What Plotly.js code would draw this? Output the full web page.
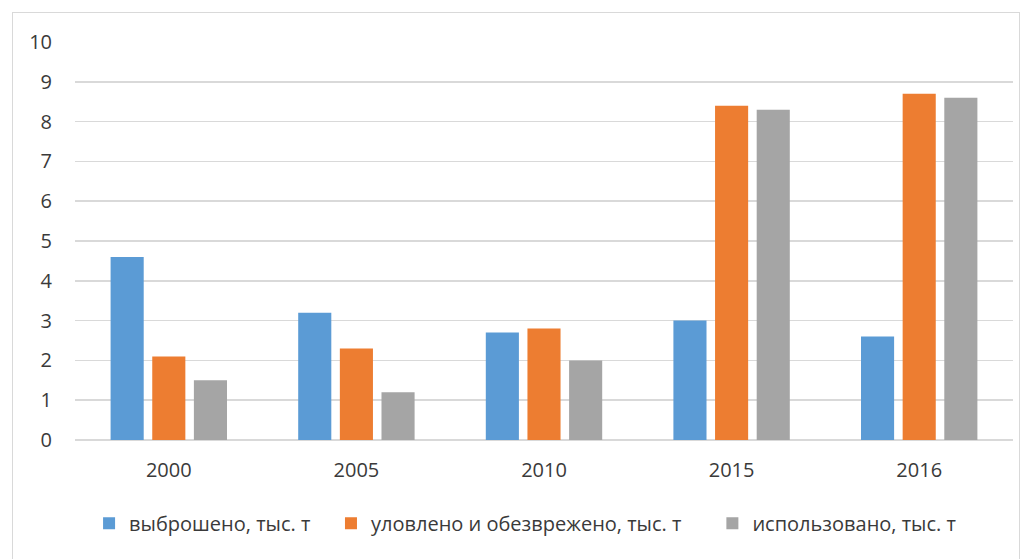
<!DOCTYPE html>
<html>
<head>
<meta charset="utf-8">
<script src="https://cdn.plot.ly/plotly-3.0.1.min.js"></script>
<style>
  html, body { margin: 0; padding: 0; background: #ffffff; }
  #wrap { position: relative; width: 1030px; height: 559px; overflow: hidden; }
  #frame { position: absolute; left: 12px; top: 12px; width: 1008px; height: 560px;
           border: 1px solid #d9d9d9; box-sizing: border-box; }
  #chart { position: absolute; left: 0; top: 0; width: 1030px; height: 559px; }
</style>
</head>
<body>
<div id="wrap">
  <div id="frame"></div>
  <div id="chart"></div>
</div>
<script>
// Years on the category axis
const years = ['2000', '2005', '2010', '2015', '2016'];

// Series values, thousand tonnes
const emitted  = [4.6, 3.2, 2.7, 3.0, 2.6];
const captured = [2.1, 2.3, 2.8, 8.4, 8.7];
const utilized = [1.5, 1.2, 2.0, 8.3, 8.6];

// Legend names
const seriesNames = [
  'выброшено, тыс. т',
  'уловлено и обезврежено, тыс. т',
  'использовано, тыс. т'
];

// Y axis ticks
const yTicks = [0, 1, 2, 3, 4, 5, 6, 7, 8, 9, 10];

const colors = ['#5b9bd5', '#ed7d31', '#a5a5a5'];
const seriesValues = [emitted, captured, utilized];

const FONT = 'Open Sans, Noto Sans, sans-serif';
const TEXT = '#3a3a3a';
// trailing room after each legend entry (non-breaking spaces)
const padCounts = [3, 5, 0];
const pad = n => '\u00A0'.repeat(n);

const traces = seriesValues.map((vals, i) => ({
  type: 'bar',
  name: seriesNames[i] + pad(padCounts[i]),
  x: years,
  y: vals,
  marker: { color: colors[i], line: { width: 0 } },
  hoverinfo: 'x+y'
}));

const layout = {
  width: 1030,
  height: 559,
  margin: { l: 75, r: 17, t: 42, b: 119 },
  paper_bgcolor: 'rgba(0,0,0,0)',
  plot_bgcolor: 'rgba(0,0,0,0)',
  barmode: 'group',
  bargap: 0.334,
  bargroupgap: 0.205,
  font: { family: FONT, size: 20, color: TEXT },
  xaxis: {
    type: 'category',
    showgrid: false,
    showline: false,
    zeroline: false,
    ticks: '',
    ticklen: 0,
    ticklabelstandoff: 16,
    tickfont: { family: FONT, size: 20, color: TEXT },
    automargin: false
  },
  yaxis: {
    range: [0, 10],
    tickvals: yTicks,
    ticktext: yTicks.map(String),
    showgrid: true,
    gridcolor: '#d9d9d9',
    gridwidth: 1.6,
    zeroline: true,
    zerolinecolor: '#d9d9d9',
    zerolinewidth: 1.6,
    showline: false,
    ticks: '',
    ticklabelstandoff: 22,
    tickfont: { family: FONT, size: 20, color: TEXT },
    automargin: false,
    fixedrange: true
  },
  showlegend: true,
  legend: {
    orientation: 'h',
    x: 0.015,
    xanchor: 'left',
    y: -0.16,
    yanchor: 'top',
    font: { family: FONT, size: 20, color: TEXT },
    itemwidth: 30,
    traceorder: 'normal',
    bgcolor: 'rgba(0,0,0,0)'
  }
};

Plotly.newPlot('chart', traces, layout, { displayModeBar: false, staticPlot: true });
</script>
</body>
</html>
